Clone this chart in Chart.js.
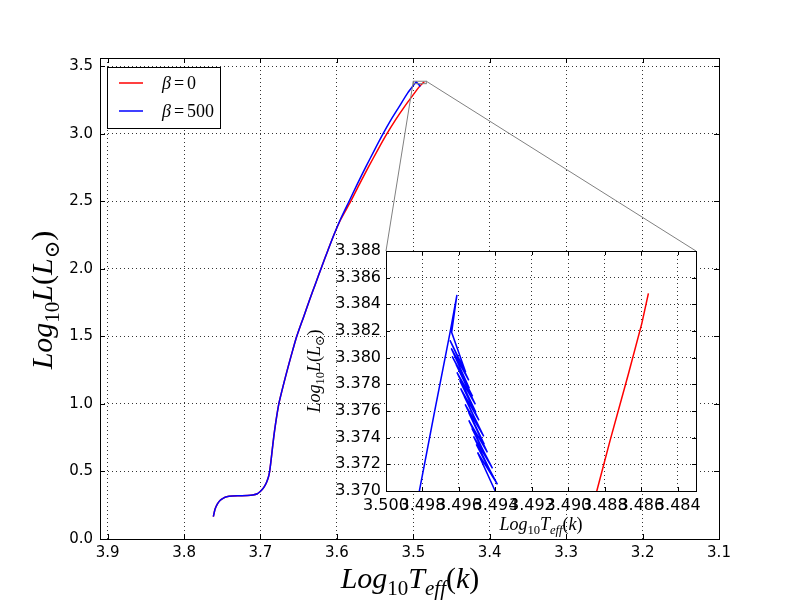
<!DOCTYPE html>
<html>
<head>
<meta charset="utf-8">
<script src="https://cdn.jsdelivr.net/npm/chart.js@4.4.1/dist/chart.umd.min.js"></script>
<style>
  html, body { margin: 0; padding: 0; background: #fff; }
  #wrap { position: relative; width: 800px; height: 600px; }
  #wrap canvas { position: absolute; left: 0; top: 0; }
</style>
</head>
<body>
<div id="wrap">
  <canvas id="mainChart" width="800" height="600"></canvas>
  <canvas id="insetChart" width="800" height="600"></canvas>
</div>
<script>
// track shared by both models (log Teff, log L)
const lowerT = [3.7617,3.7595,3.7565,3.7530,3.7485,3.7442,3.7370,3.7267,3.7170,3.7100,3.7040,3.7006,3.6975,3.6950,3.6920,3.6895,3.6880,3.6858,3.6838,3.6816,3.6790,3.6760,3.6718,3.6673,3.6626,3.6577,3.6525,3.6438,3.6358,3.6280,3.6202,3.6122,3.6040];
const lowerL = [0.165,0.220,0.258,0.285,0.303,0.313,0.318,0.320,0.322,0.326,0.335,0.350,0.368,0.387,0.420,0.461,0.500,0.600,0.700,0.800,0.900,1.000,1.100,1.200,1.300,1.400,1.500,1.640,1.769,1.890,2.010,2.130,2.250];

// beta = 0, upper part
const redUpperT = [3.5945,3.5818,3.5706,3.5590,3.5470,3.5345,3.5235,3.5115,3.4985,3.4918,3.48844,3.48771,3.48670,3.48597,3.48561];
const redUpperL = [2.370,2.500,2.625,2.750,2.875,3.000,3.100,3.200,3.300,3.350,3.3700,3.3738,3.37881,3.38257,3.38482];

// beta = 500, upper part up to the tip
const blueUpperT = [3.5950,3.5840,3.5735,3.5625,3.5512,3.5395,3.5295,3.5185,3.5075,3.49817,3.49775,3.49733,3.49690,3.49650,3.49611];
const blueUpperL = [2.370,2.500,2.625,2.750,2.875,3.000,3.100,3.200,3.300,3.3700,3.3730,3.3760,3.3790,3.3818,3.3847];

// beta = 500, noisy descent after the tip
const blueNoiseT = [3.49640,3.49563,3.49649,3.49546,3.49642,3.49543,3.49637,3.49525,3.49616,3.49510,
  3.49611,3.49507,3.49596,3.49490,3.49591,3.49487,3.49571,3.49464,3.49566,3.49461,
  3.49547,3.49444,3.49546,3.49441,3.49529,3.49416,3.49520,3.49414,3.49505,3.49389,
  3.49498,3.49398,3.4925,3.4910];
const blueNoiseL = [3.3819,3.3789,3.3813,3.3783,3.3807,3.3777,3.3801,3.3771,3.3795,3.3765,
  3.3789,3.3759,3.3783,3.3753,3.3777,3.3747,3.3771,3.3741,3.3765,3.3735,
  3.3759,3.3729,3.3753,3.3723,3.3747,3.3717,3.3741,3.3711,3.3735,3.3705,
  3.3729,3.3699,3.3620,3.3480];

const seriesLabels = ['β=0', 'β=500'];

const xTicks = [3.9, 3.8, 3.7, 3.6, 3.5, 3.4, 3.3, 3.2, 3.1];
const yTicks = [0.0, 0.5, 1.0, 1.5, 2.0, 2.5, 3.0, 3.5];
const insetXTicks = [3.500, 3.498, 3.496, 3.494, 3.492, 3.490, 3.488, 3.486, 3.484];
const insetYTicks = [3.370, 3.372, 3.374, 3.376, 3.378, 3.380, 3.382, 3.384, 3.386, 3.388];

const redT = lowerT.concat(redUpperT);
const redL = lowerL.concat(redUpperL);
const blueT = lowerT.concat(blueUpperT, blueNoiseT);
const blueL = lowerL.concat(blueUpperL, blueNoiseL);

function toPoints(xs, ys) {
  return xs.map((x, i) => ({ x: x, y: ys[i] }));
}

function makeDatasets(tension) {
  return [
    { label: seriesLabels[0], data: toPoints(redT, redL), borderColor: '#ff0000',
      showLine: true, pointRadius: 0, borderWidth: 1.5, tension: tension, order: 1 },
    { label: seriesLabels[1], data: toPoints(blueT, blueL), borderColor: '#0000ff',
      showLine: true, pointRadius: 0, borderWidth: 1.5, tension: tension, order: 0 }
  ];
}

const SERIF = '"Liberation Serif", "DejaVu Serif", serif';
const SANS = '"DejaVu Sans", sans-serif';

// draws a mathtext-like label; parts: {t, it, sub}
function drawMath(ctx, parts, size, x, y, rotate) {
  ctx.save();
  ctx.translate(x, y);
  if (rotate) ctx.rotate(-Math.PI / 2);
  const fontFor = p => (p.it ? 'italic ' : '') + (p.sub ? size * 0.7 : size).toFixed(1) + 'px ' + SERIF;
  let w = 0;
  parts.forEach(p => { ctx.font = fontFor(p); p.w = ctx.measureText(p.t).width; w += p.w; });
  let cx = -w / 2;
  ctx.fillStyle = '#000';
  ctx.textBaseline = 'alphabetic';
  ctx.textAlign = 'left';
  parts.forEach(p => {
    ctx.font = fontFor(p);
    ctx.fillText(p.t, cx, p.sub ? size * 0.22 : 0);
    cx += p.w;
  });
  ctx.restore();
}

const xTitle = [
  { t: 'Log', it: true }, { t: '10', sub: true }, { t: 'T', it: true },
  { t: 'eff', it: true, sub: true }, { t: '(' }, { t: 'k', it: true }, { t: ')' }
];
const yTitle = [
  { t: 'Log', it: true }, { t: '10', sub: true }, { t: 'L', it: true }, { t: '(' },
  { t: 'L', it: true }, { t: '⊙', sub: true }, { t: ')' }
];

// frame plus inward tick marks like matplotlib
function drawFrame(chart, tickLen) {
  const ctx = chart.ctx, a = chart.chartArea;
  const sx = chart.scales.x, sy = chart.scales.y;
  ctx.save();
  ctx.strokeStyle = '#000';
  ctx.lineWidth = 1;
  ctx.beginPath();
  sx.ticks.forEach(t => {
    const px = Math.round(sx.getPixelForValue(t.value)) + 0.5;
    ctx.moveTo(px, a.bottom); ctx.lineTo(px, a.bottom - tickLen);
    ctx.moveTo(px, a.top); ctx.lineTo(px, a.top + tickLen);
  });
  sy.ticks.forEach(t => {
    const py = Math.round(sy.getPixelForValue(t.value)) + 0.5;
    ctx.moveTo(a.left, py); ctx.lineTo(a.left + tickLen, py);
    ctx.moveTo(a.right, py); ctx.lineTo(a.right - tickLen, py);
  });
  ctx.stroke();
  ctx.strokeRect(Math.round(a.left) + 0.5, Math.round(a.top) + 0.5,
    Math.round(a.right - a.left), Math.round(a.bottom - a.top));
  ctx.restore();
}

const mainDecor = {
  id: 'mainDecor',
  afterDraw(chart) {
    const ctx = chart.ctx;
    drawFrame(chart, 5);
    drawMath(ctx, xTitle, 30, 410, 588, false);
    drawMath(ctx, yTitle, 30, 52, 300, true);

    // legend box
    ctx.save();
    ctx.fillStyle = '#fff';
    ctx.fillRect(107.5, 67.5, 113, 61);
    ctx.strokeStyle = '#000';
    ctx.lineWidth = 1;
    ctx.strokeRect(107.5, 67.5, 113, 61);
    chart.data.datasets.forEach((ds, i) => {
      const y = 83 + i * 28;
      ctx.strokeStyle = ds.borderColor;
      ctx.lineWidth = 1.5;
      ctx.beginPath();
      ctx.moveTo(119, y); ctx.lineTo(143, y);
      ctx.stroke();
      const parts = ds.label.split('=');
      let x = 162;
      ctx.fillStyle = '#000';
      ctx.textBaseline = 'alphabetic';
      ctx.font = 'italic 18px ' + SERIF;
      ctx.fillText(parts[0], x, y + 6);
      x += ctx.measureText(parts[0]).width + 3;
      ctx.font = '18px ' + SERIF;
      ctx.fillText('=', x, y + 6);
      x += ctx.measureText('=').width + 3;
      ctx.fillText(parts[1], x, y + 6);
    });
    ctx.restore();
  }
};

function scaleOpts(min, max, reverse, ticks, size, fmt, fitKey, fitVal, pad) {
  return {
    type: 'linear', min: min, max: max, reverse: reverse,
    afterBuildTicks: s => { s.ticks = ticks.map(v => ({ value: v })); },
    afterFit: s => { s[fitKey] = fitVal; },
    ticks: { color: '#000', font: { family: SANS, size: size }, padding: pad,
             autoSkip: false, maxRotation: 0, minRotation: 0, callback: v => v.toFixed(fmt) },
    grid: { color: '#000', lineWidth: 0.8, drawTicks: false },
    border: { display: false, dash: [1, 3] }
  };
}

const mainChart = new Chart(document.getElementById('mainChart'), {
  type: 'scatter',
  data: { datasets: makeDatasets(0.25) },
  options: {
    responsive: false, animation: false, devicePixelRatio: 1,
    layout: { padding: { left: 60, top: 58, right: 81, bottom: 36 } },
    plugins: { legend: { display: false }, tooltip: { enabled: false } },
    scales: {
      x: scaleOpts(3.1, 3.91, true, xTicks, 15, 1, 'height', 25, 5),
      y: scaleOpts(0, 3.56, false, yTicks, 15, 1, 'width', 40, 7)
    }
  },
  plugins: [mainDecor]
});

const insetDecor = {
  id: 'insetDecor',
  beforeDraw(chart) {
    const ctx = chart.ctx, a = chart.chartArea;
    const mx = mainChart.scales.x, my = mainChart.scales.y;
    const ix = chart.scales.x, iy = chart.scales.y;
    // zoom box in main axes, same limits as the inset
    const bx0 = mx.getPixelForValue(ix.max), bx1 = mx.getPixelForValue(ix.min);
    const by0 = my.getPixelForValue(iy.max), by1 = my.getPixelForValue(iy.min);
    ctx.save();
    ctx.strokeStyle = '#808080';
    ctx.lineWidth = 1;
    ctx.strokeRect(bx0, by0, bx1 - bx0, by1 - by0);
    ctx.beginPath();
    ctx.moveTo(bx0, by0); ctx.lineTo(a.left, a.top);
    ctx.moveTo(bx1, by0); ctx.lineTo(a.right, a.top);
    ctx.stroke();
    ctx.fillStyle = '#fff';
    ctx.fillRect(a.left, a.top, a.right - a.left, a.bottom - a.top);
    ctx.restore();
  },
  afterDraw(chart) {
    const ctx = chart.ctx, a = chart.chartArea;
    drawFrame(chart, 4);
    drawMath(ctx, xTitle, 18, (a.left + a.right) / 2, 530, false);
    drawMath(ctx, yTitle, 18, 320, (a.top + a.bottom) / 2, true);
  }
};

const insetChart = new Chart(document.getElementById('insetChart'), {
  type: 'scatter',
  data: { datasets: makeDatasets(0) },
  options: {
    responsive: false, animation: false, devicePixelRatio: 1,
    layout: { padding: { left: 331, top: 251, right: 104, bottom: 89 } },
    plugins: { legend: { display: false }, tooltip: { enabled: false } },
    scales: {
      x: scaleOpts(3.483, 3.500, true, insetXTicks, 16, 3, 'height', 20, 5),
      y: scaleOpts(3.370, 3.388, false, insetYTicks, 16, 3, 'width', 55, 5)
    }
  },
  plugins: [insetDecor]
});
</script>
</body>
</html>
